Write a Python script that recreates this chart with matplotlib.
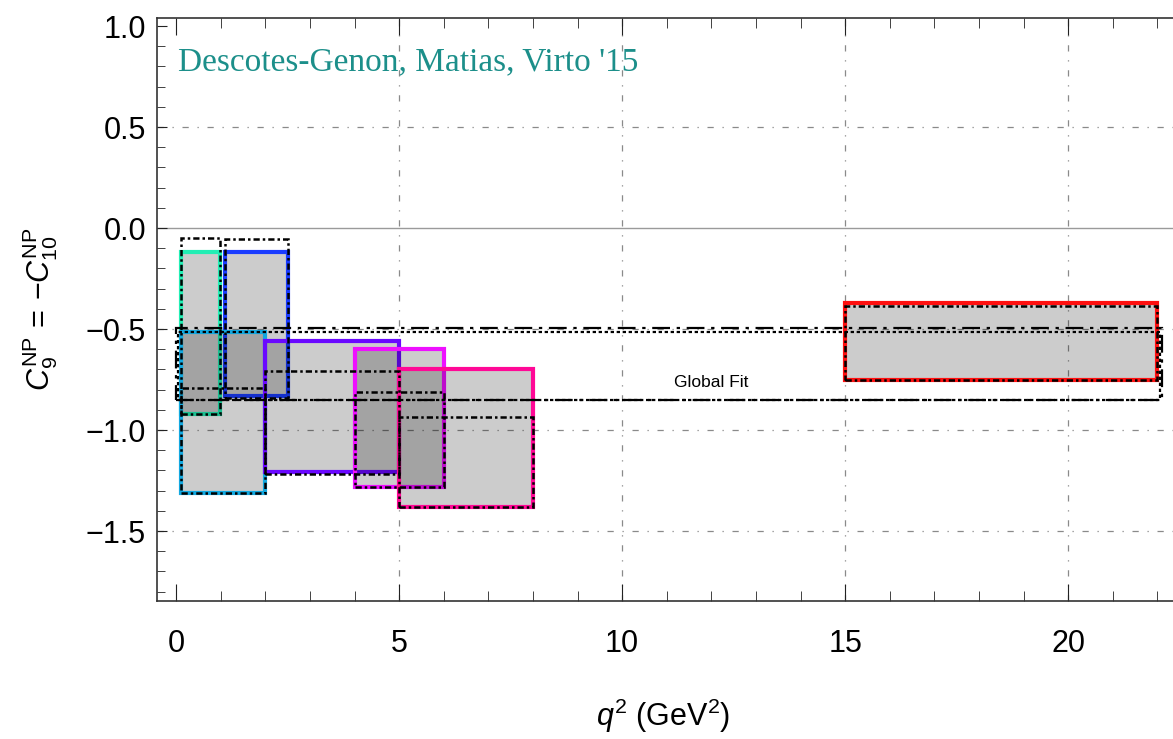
import numpy as np
import matplotlib
matplotlib.use("Agg")
import matplotlib.pyplot as plt
from matplotlib.patches import Rectangle
from matplotlib.ticker import MultipleLocator

plt.rcParams['font.family'] = ['Liberation Sans', 'DejaVu Sans']
plt.rcParams['mathtext.fontset'] = 'custom'
plt.rcParams['mathtext.rm'] = 'Liberation Sans'
plt.rcParams['mathtext.it'] = 'Liberation Sans:italic'

# q^2 bins (GeV^2) and 1 sigma ranges for C9 = -C10
bin_lo = [0.1, 1.1, 0.1, 2.0, 4.0, 5.0, 15.0]
bin_hi = [0.98, 2.5, 2.0, 5.0, 6.0, 8.0, 22.0]
c9_lo = [-0.92, -0.83, -1.31, -1.21, -1.28, -1.38, -0.75]
c9_hi = [-0.12, -0.12, -0.515, -0.56, -0.60, -0.70, -0.37]
colors = ['#22eeb4', '#1a3cff', '#12a8e0', '#6a08ff', '#ee10ff', '#ff0896', '#ff1010']

# second (black dotted) ranges per bin
alt_lo = [-0.92, -0.84, -1.31, -1.22, -1.28, -1.38, -0.75]
alt_hi = [-0.05, -0.055, -0.79, -0.71, -0.81, -0.935, -0.385]

# global fit
glob_q2 = [0.0, 22.1]
glob_dashdot = [-0.85, -0.495]
glob_dotted = [-0.85, -0.515]

fig = plt.figure(figsize=(11.73, 7.39), dpi=100)
ax = fig.add_axes([157 / 1173, 1 - 601 / 739, 1 - 157 / 1173, (601 - 18) / 739])
ax.set_xlim(-0.43, 22.35)
ax.set_ylim(-1.8465, 1.04)

# grid
grid_ls = (0, (5, 7, 1, 7))
for y in [0.5, -0.5, -1.0, -1.5]:
    ax.axhline(y, color='#8a8a8a', lw=0.9, ls=grid_ls, zorder=0)
for x in [5, 10, 15, 20]:
    ax.axvline(x, color='#8a8a8a', lw=0.9, ls=grid_ls, zorder=0)
ax.axhline(0, color='#9a9a9a', lw=1.0, zorder=0)

dot_ls = (0, (2.5, 1.2, 1, 1.2))
for i in range(len(bin_lo)):
    w = bin_hi[i] - bin_lo[i]
    ax.add_patch(Rectangle((bin_lo[i], c9_lo[i]), w, c9_hi[i] - c9_lo[i],
                           facecolor=(0, 0, 0, 0.2), edgecolor=colors[i], lw=3, zorder=2))
    ax.add_patch(Rectangle((bin_lo[i], alt_lo[i]), w, alt_hi[i] - alt_lo[i],
                           facecolor='none', edgecolor='black', lw=1.8, ls=dot_ls, zorder=3))

ax.add_patch(Rectangle((glob_q2[0], glob_dashdot[0]), glob_q2[1] - glob_q2[0],
                       glob_dashdot[1] - glob_dashdot[0], facecolor='none',
                       edgecolor='black', lw=1.6, ls=(0, (8, 3, 1.5, 3)), zorder=3))
ax.add_patch(Rectangle((glob_q2[0] + 0.05, glob_dotted[0]), glob_q2[1] - glob_q2[0] - 0.1,
                       glob_dotted[1] - glob_dotted[0], facecolor='none',
                       edgecolor='black', lw=1.6, ls=(0, (1.5, 1.2)), zorder=3))
ax.text(12, -0.765, 'Global Fit', fontsize=12.5, ha='center', va='center')

ax.text(0.04, 0.82, "Descotes-Genon, Matias, Virto '15", fontsize=24,
        family='Liberation Serif', color='#1c8f8a', va='center', ha='left')

# axes styling
ax.spines['right'].set_visible(False)
for s in ['left', 'top', 'bottom']:
    ax.spines[s].set_color('#333333')
    ax.spines[s].set_linewidth(1.2)
ax.xaxis.set_major_locator(MultipleLocator(5))
ax.xaxis.set_minor_locator(MultipleLocator(1))
ax.yaxis.set_major_locator(MultipleLocator(0.5))
ax.yaxis.set_minor_locator(MultipleLocator(0.1))
ax.tick_params(which='both', direction='in', top=True, right=False, colors='#222222')
ax.tick_params(axis='x', which='major', length=12, pad=20, labelsize=22, labelcolor='black')
ax.tick_params(axis='x', which='minor', length=7)
ax.tick_params(axis='y', which='major', length=7, pad=8, labelsize=22, labelcolor='black')
ax.tick_params(axis='y', which='minor', length=6)

ax.set_ylabel(r'$C_9^{\rm NP}\,=\,{-}C_{10}^{\rm NP}$', fontsize=22)
ax.yaxis.set_label_coords(-0.095, 0.5)
ax.set_xlabel(r'$q^2$ (GeV$^2$)', fontsize=22)
ax.xaxis.set_label_coords(0.498, -0.165)

fig.savefig('out.png', dpi=100)
